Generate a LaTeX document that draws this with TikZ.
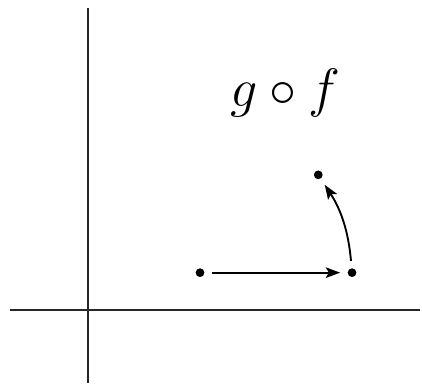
\documentclass[tikz,border=0pt]{standalone}
\usetikzlibrary{arrows.meta}
\tikzset{
  axis-line/.style={semithick, draw=black!85},
  map-point/.style={circle, fill=black, inner sep=0pt, minimum size=2.8pt},
  map-arrow/.style={-{Stealth[length=4.6pt, width=3.4pt, inset=1pt]}, semithick,
    shorten <=2.2pt, shorten >=2.2pt}
}
\begin{document}
\begin{tikzpicture}
  \useasboundingbox (-0.99, -0.844) rectangle (3.757, 3.487);

  % axes
  \coordinate (x-min) at (-0.88, 0);
  \coordinate (x-max) at (3.73, 0);
  \coordinate (y-min) at (0, -0.82);
  \coordinate (y-max) at (0, 3.40);
  \draw[axis-line] (x-min) -- (x-max);
  \draw[axis-line] (y-min) -- (y-max);

  \node[map-point] (p) at (1.26, 0.42) {};
  \node[map-point] (q) at (2.97, 0.42) {};
  \node[map-point] (r) at (2.59, 1.52) {};

  \node[font=\fontsize{16.5}{19}\selectfont] (comp) at (2.22, 2.44) {$g\circ f$};

  \draw[map-arrow] (p) -- (q);
  \draw[map-arrow] (q) to[bend right=14] (r);
\end{tikzpicture}
\end{document}
